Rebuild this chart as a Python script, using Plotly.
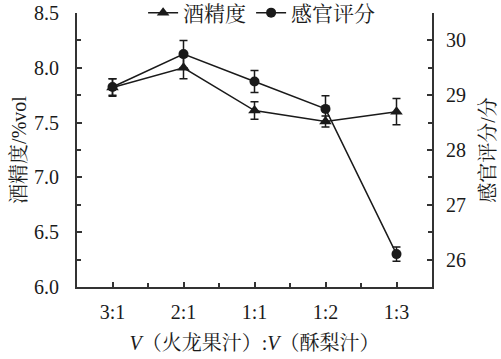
import plotly.graph_objects as go

categories = ["3:1", "2:1", "1:1", "1:2", "1:3"]
alcohol = [7.82, 8.00, 7.61, 7.51, 7.60]
alcohol_err = [0.08, 0.10, 0.08, 0.05, 0.12]
sensory = [29.15, 29.75, 29.25, 28.75, 26.10]
sensory_err = [0.15, 0.25, 0.20, 0.24, 0.13]

xpos = list(range(len(categories)))
FONT = "Liberation Serif, Times New Roman, Noto Serif CJK SC, Noto Sans CJK SC"
INK = "#1a1a1a"
FS = 20

fig = go.Figure()
fig.add_trace(go.Scatter(
    x=xpos, y=alcohol, name="酒精度", mode="lines+markers",
    line=dict(color=INK, width=1.5),
    marker=dict(symbol="triangle-up", size=11, color=INK),
    error_y=dict(type="data", array=alcohol_err, color=INK, thickness=1.5, width=4),
))
fig.add_trace(go.Scatter(
    x=xpos, y=sensory, name="感官评分", mode="lines+markers", yaxis="y2",
    line=dict(color=INK, width=1.5),
    marker=dict(symbol="circle", size=10, color=INK),
    error_y=dict(type="data", array=sensory_err, color=INK, thickness=1.5, width=4),
))

axis_common = dict(showline=True, linecolor="#333", linewidth=2, showgrid=False,
                   zeroline=False, ticks="inside", ticklen=5, tickcolor="#333", tickwidth=1.5,
                   tickfont=dict(family=FONT, size=FS, color=INK))

fig.update_layout(
    width=501, height=359,
    margin=dict(l=77, r=69, t=13, b=72, autoexpand=False),
    paper_bgcolor="white", plot_bgcolor="white",
    font=dict(family=FONT, size=FS, color=INK),
    showlegend=True,
    legend=dict(orientation="h", x=0.52, y=1.0, xanchor="center", yanchor="middle",
                font=dict(size=21, family=FONT), itemwidth=30, bgcolor="rgba(0,0,0,0)",
                tracegroupgap=0),
    xaxis=dict(**axis_common, range=[-0.5, 4.5], tickvals=xpos, ticktext=categories,
               minor=dict(ticks="inside", dtick=0.5, tick0=0.5, ticklen=4, tickcolor="#333"),
               ticklabelstandoff=6,
               title=dict(text="<i>V</i>（火龙果汁）:<i>V</i>（酥梨汁）",
                          font=dict(family=FONT, size=FS), standoff=14)),
    yaxis=dict(**axis_common, range=[6.0, 8.5], dtick=0.5, tickformat=".1f",
               minor=dict(ticks="inside", dtick=0.25, ticklen=4, tickcolor="#333"),
               ticklabelstandoff=12,
               title=dict(text="酒精度/%vol", font=dict(family=FONT, size=FS), standoff=2)),
    yaxis2=dict(**axis_common, overlaying="y", side="right", range=[25.5, 30.5], dtick=1,
                minor=dict(ticks="inside", dtick=0.5, ticklen=4, tickcolor="#333"),
                ticklabelstandoff=8,
                title=dict(text="感官评分/分", font=dict(family=FONT, size=FS), standoff=16)),
)

# remove the browser's default 8px body margin so the figure sits at the window origin
fig.write_html("out.html", config={"displayModeBar": False},
               post_script="document.body.style.margin='0';document.body.style.overflow='hidden';")
